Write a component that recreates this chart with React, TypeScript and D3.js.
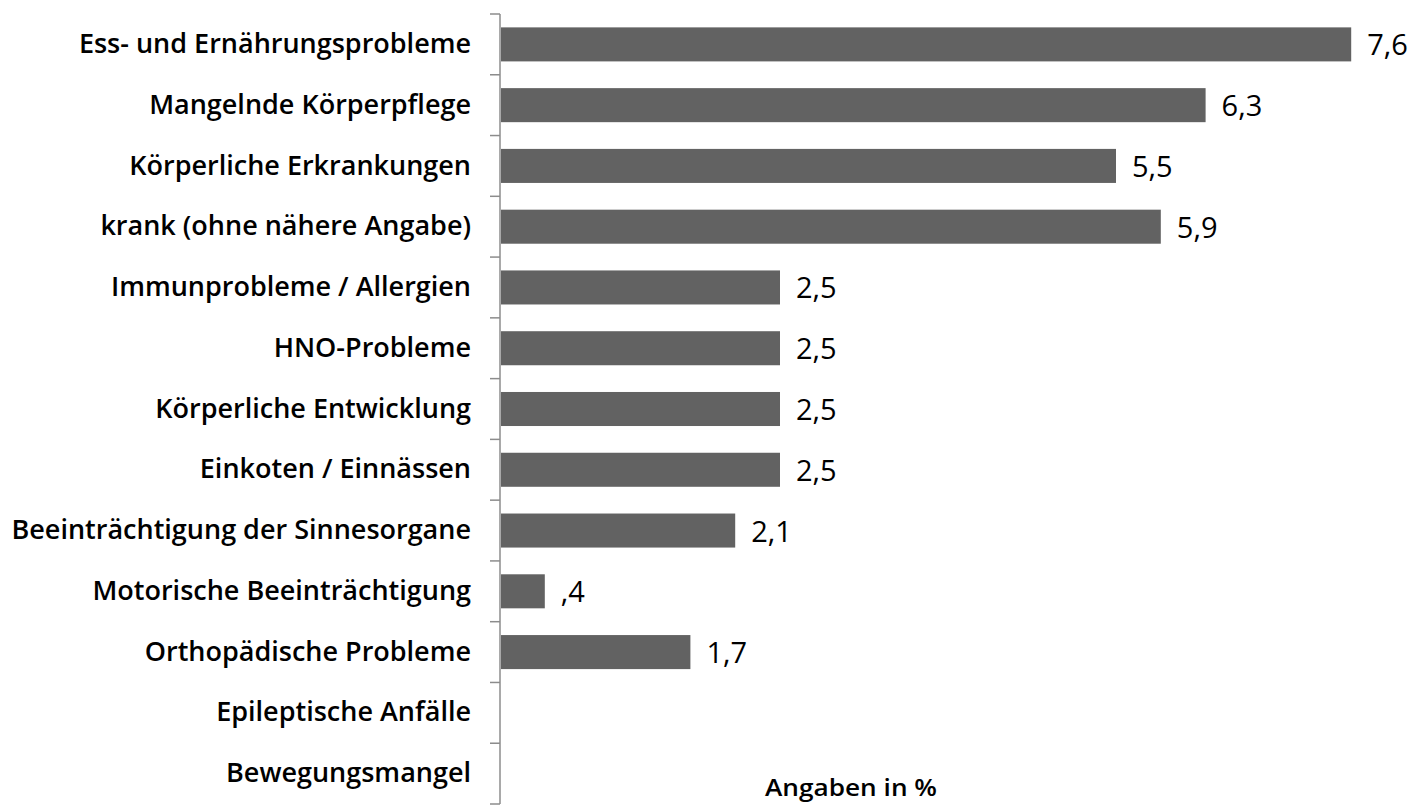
import React, { useEffect, useRef } from "react";
import { select, scaleBand, scaleLinear } from "d3";

const categories: string[] = [
  "Ess- und Ernährungsprobleme",
  "Mangelnde Körperpflege",
  "Körperliche Erkrankungen",
  "krank (ohne nähere Angabe)",
  "Immunprobleme / Allergien",
  "HNO-Probleme",
  "Körperliche Entwicklung",
  "Einkoten / Einnässen",
  "Beeinträchtigung der Sinnesorgane",
  "Motorische Beeinträchtigung",
  "Orthopädische Probleme",
  "Epileptische Anfälle",
  "Bewegungsmangel",
];
const values: number[] = [7.6, 6.3, 5.5, 5.9, 2.5, 2.5, 2.5, 2.5, 2.1, 0.4, 1.7, 0, 0];
const axisTitle = "Angaben in %";

const WIDTH = 1410;
const HEIGHT = 808;
const FONT = "'Open Sans', 'Noto Sans', Arial, sans-serif";

const fmt = (v: number) => v.toFixed(1).replace(".", ",").replace(/^0/, "");

const App: React.FC = () => {
  const svgRef = useRef<SVGSVGElement>(null);
  useEffect(() => {
    const svg = select(svgRef.current);
    svg.selectAll("*").remove();
    const y = scaleBand<string>()
      .domain(categories)
      .range([14, 804])
      .paddingInner(0.44)
      .paddingOuter(0.22);
    const x = scaleLinear().domain([0, 8]).range([500, 1396]);
    const step = y.step();

    // bars
    svg
      .selectAll(".bar")
      .data(categories.filter((_, i) => values[i] > 0))
      .join("rect")
      .attr("class", "bar")
      .attr("x", x(0) + 1)
      .attr("y", (d) => y(d) as number)
      .attr("width", (d) => x(values[categories.indexOf(d)]) - x(0) - 1)
      .attr("height", y.bandwidth())
      .style("fill", "#626262");

    // axis line + ticks
    const axis = svg.append("g").attr("stroke", "#8c8c8c").attr("stroke-width", 1.5);
    axis
      .append("line")
      .attr("x1", x(0))
      .attr("x2", x(0))
      .attr("y1", 14)
      .attr("y2", 14 + step * categories.length);
    axis
      .selectAll(".tick")
      .data(Array.from({ length: categories.length + 1 }, (_, i) => i))
      .join("line")
      .attr("x1", x(0) - 10)
      .attr("x2", x(0))
      .attr("y1", (i) => 14 + i * step)
      .attr("y2", (i) => 14 + i * step);

    // category labels
    svg
      .selectAll(".cat")
      .data(categories)
      .join("text")
      .attr("class", "cat")
      .attr("x", 471)
      .attr("y", (d) => (y(d) as number) + y.bandwidth() / 2)
      .attr("dy", "0.32em")
      .attr("text-anchor", "end")
      .style("font-family", FONT)
      .style("font-size", "27px")
      .style("font-weight", 600)
      .style("fill", "#000")
      .text((d) => d);

    // value labels
    svg
      .selectAll(".val")
      .data(categories.filter((_, i) => values[i] > 0))
      .join("text")
      .attr("class", "val")
      .attr("x", (d) => x(values[categories.indexOf(d)]) + 16)
      .attr("y", (d) => (y(d) as number) + y.bandwidth() / 2)
      .attr("dy", "0.38em")
      .style("font-family", FONT)
      .style("font-size", "29px")
      .style("fill", "#000")
      .text((d) => fmt(values[categories.indexOf(d)]));

    // axis title
    svg
      .append("text")
      .attr("x", 765)
      .attr("y", 796)
      .attr("textLength", 172)
      .attr("lengthAdjust", "spacingAndGlyphs")
      .style("font-family", FONT)
      .style("font-size", "23px")
      .style("font-weight", 600)
      .style("fill", "#000")
      .text(axisTitle);
  }, []);
  return (
    <svg
      ref={svgRef}
      width={WIDTH}
      height={HEIGHT}
      style={{ position: "absolute", left: 0, top: 0, background: "white" }}
    />
  );
};

export default App;
